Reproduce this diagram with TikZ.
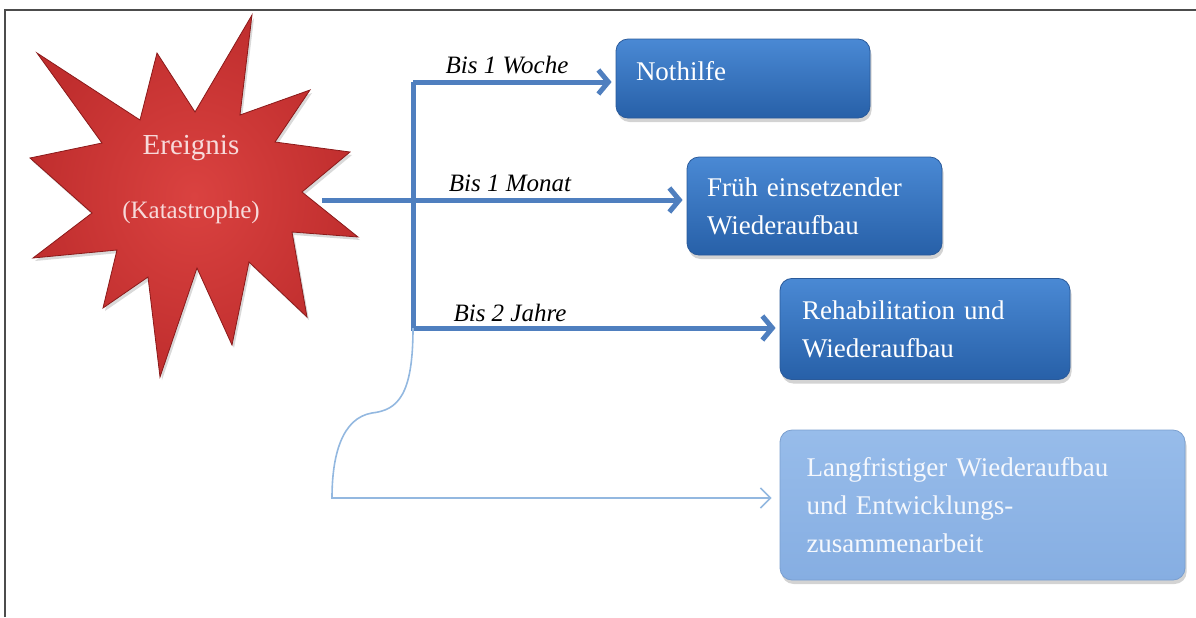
\documentclass[tikz,border=0pt]{standalone}
\usepackage{fontspec}
\setmainfont{Liberation Serif}
\usetikzlibrary{positioning,shadows,arrows.meta}

\definecolor{boxtop}{HTML}{4A89D4}
\definecolor{boxbot}{HTML}{2760A8}
\definecolor{boxedge}{HTML}{2A5A9A}
\definecolor{latetop}{HTML}{97BCEA}
\definecolor{latebot}{HTML}{86AEE2}
\definecolor{lateedge}{HTML}{7A9FCF}
\definecolor{linecol}{HTML}{4F7FBF}
\definecolor{thincol}{HTML}{93B8E0}
\definecolor{starfill}{HTML}{DA4240}
\definecolor{starouter}{HTML}{C02E2E}
\definecolor{staredge}{HTML}{8B1A1A}
\definecolor{startxt}{HTML}{F7DADA}

\tikzset{%
	block/.style     = {draw=boxedge, thin, rectangle, rounded corners=6pt,
		top color=boxtop, bottom color=boxbot, text=white, align=left,
		inner sep=10pt, font=\fontsize{13.5}{19}\selectfont,
		drop shadow={shadow xshift=0.8pt, shadow yshift=-2pt, opacity=.35}},
	lateblock/.style = {block, top color=latetop, bottom color=latebot,
		draw=lateedge, text=white!90!latetop}, % Langfristig
	blast/.style     = {inner color=starfill, outer color=starouter,
		draw=staredge, thin, line join=miter,
		drop shadow={shadow xshift=1pt, shadow yshift=-1.5pt, opacity=.3}},
	startext/.style  = {text=startxt, align=center, font=\fontsize{12.5}{32}\selectfont},
	timelabel/.style = {font=\fontsize{12.5}{14}\selectfont\itshape},
	mainline/.style  = {draw=linecol, line width=2.5pt,
		-{Straight Barb[length=5pt, width=12pt]}, shorten >=2pt},
	thinline/.style  = {draw=thincol, line width=0.8pt,
		-{Straight Barb[length=5pt, width=10pt]}, shorten >=4pt},
	frame/.style     = {draw=black!70, line width=1.2pt}
}

\begin{document}
\begin{tikzpicture}[x=0.5pt, y=-0.5pt]
	\useasboundingbox (0,0) rectangle (1196,617);
	\draw[frame] (5,617) -- (5,10) -- (1196,10);

	% Ereignis
	\path[blast] (37,53) -- (140,120) -- (157,53) -- (195,112) -- (252,15)
		-- (240,115) -- (310,90) -- (275,142) -- (350,152) -- (302,192)
		-- (358,237) -- (292,232) -- (307,317) -- (249,262) -- (232,345)
		-- (197,268) -- (160,377) -- (148,277) -- (103,308) -- (117,250)
		-- (33,258) -- (92,213) -- (30,158) -- (102,143) -- cycle;
	\node[startext] (ereignis) at (191,180)
		{{\fontsize{14.5}{32}\selectfont Ereignis}\\(Katastrophe)};

	% Phasen
	\node[block, minimum width=127pt, minimum height=39.5pt, text width=107pt,
		text depth=8pt] (nothilfe) at (743,78.5) {Nothilfe};
	\node[block, minimum width=127.5pt, minimum height=49pt, text width=107.5pt]
		(frueh) at (814.5,206) {Früh einsetzender\\Wiederaufbau};
	\node[block, minimum width=145pt, minimum height=48pt, text width=123pt,
		inner sep=11pt] (rehab) at (925,329) {Rehabilitation und\\Wiederaufbau};
	\node[lateblock, minimum width=202.5pt, minimum height=75pt, text width=176pt,
		inner sep=13pt] (lang) at (982.5,505)
		{Langfristiger Wiederaufbau\\und Entwicklungs-\\zusammenarbeit};

	% Verbindungen
	\coordinate (quelle) at (322,200);
	\coordinate (oben)   at (413,82);
	\coordinate (unten)  at (413,328);
	\coordinate (knick)  at (332,498);

	\draw[mainline] (quelle) -- (quelle -| frueh.west);
	\draw[mainline] (oben) -- (oben -| nothilfe.west);
	\draw[mainline] (oben) -- (unten) -- (unten -| rehab.west);
	\draw[thinline] (unten) .. controls (413,395) and (398,410) .. (372,413)
		.. controls (342,418) and (332,455) .. (knick) -- (knick -| lang.west);

	\node[timelabel] (woche) at (507,65)  {Bis 1 Woche};
	\node[timelabel] (monat) at (510,183) {Bis 1 Monat};
	\node[timelabel] (jahre) at (510,313) {Bis 2 Jahre};
\end{tikzpicture}
\end{document}
